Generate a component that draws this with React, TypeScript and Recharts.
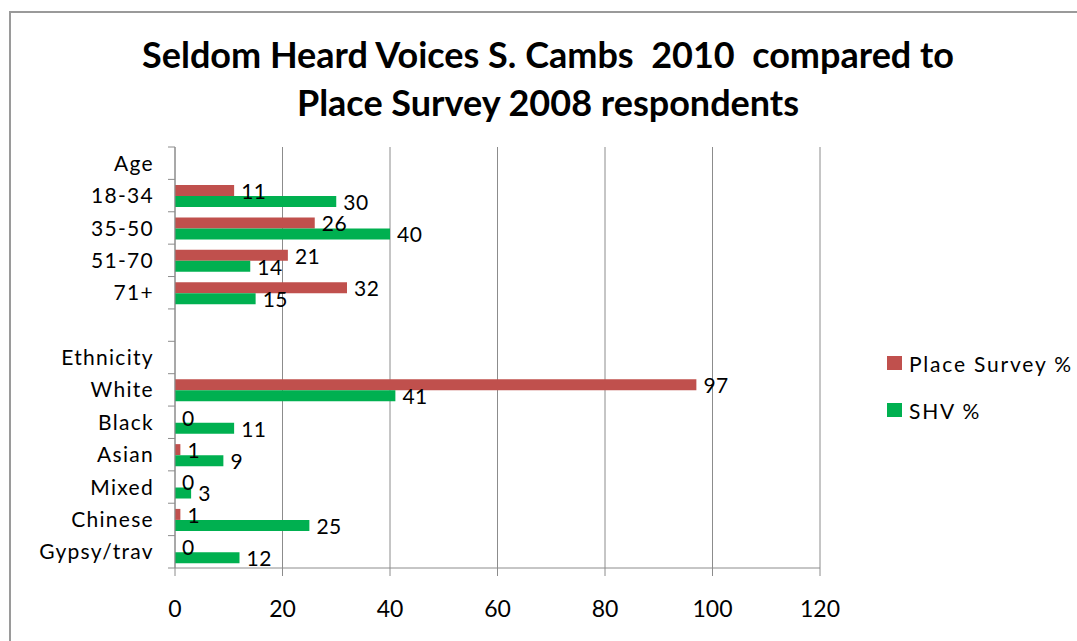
import React from 'react'
import { BarChart, Bar, XAxis, YAxis, CartesianGrid } from 'recharts'

const categories = ['Age', '18-34', '35-50', '51-70', '71+', '', 'Ethnicity', 'White', 'Black', 'Asian', 'Mixed', 'Chinese', 'Gypsy/trav']
const placeSurvey: (number | null)[] = [null, 11, 26, 21, 32, null, null, 97, 0, 1, 0, 1, 0]
const shv: (number | null)[] = [null, 30, 40, 14, 15, null, null, 41, 11, 9, 3, 25, 12]
const xTicks = [0, 20, 40, 60, 80, 100, 120]

const data = categories.map((c, i) => ({ cat: c, place: placeSurvey[i], shv: shv[i] }))

const FONT = 'Lato, "Open Sans", sans-serif'
const AXIS_X = 175
const TOP = 147
const BOTTOM = 568
const BAND = (BOTTOM - TOP) / categories.length
const GRAY = '#8c8c8c'

const YTick = ({ y, payload, index }: any) => {
  return (
    <g>
      <line x1={AXIS_X - 7} x2={AXIS_X} y1={y - BAND / 2} y2={y - BAND / 2} stroke={GRAY} />
      {index === categories.length - 1 && (
        <line x1={AXIS_X - 7} x2={AXIS_X} y1={y + BAND / 2} y2={y + BAND / 2} stroke={GRAY} />
      )}
      <text x={AXIS_X - 21} y={y} dy="0.36em" textAnchor="end" fontSize={21} letterSpacing={1.3} fill="#000" fontFamily={FONT}>
        {payload.value}
      </text>
    </g>
  )
}

// value labels live in a second (hidden-axis) bar group drawn after the coloured bars,
// so the text sits on top of the bars and zero values still get their "0"
const makeLabel = (key: string) => (props: any) => {
  const v = props.payload ? props.payload[key] : null
  if (v == null) return <g />
  const { x, y, width, height } = props
  const w = Number.isFinite(width) ? width : 0
  return (
    <text x={x + w + 7} y={y + height / 2} dy="0.4em" fontSize={21} letterSpacing={0.5} fill="#000" fontFamily={FONT}>
      {v}
    </text>
  )
}

const App = () => {
  return (
    <div style={{ position: 'absolute', left: 0, top: 0, width: 1077, height: 641, background: '#fff', fontFamily: FONT }}>
      <div style={{ position: 'absolute', left: 9, top: 11, right: 0, bottom: 0, borderTop: `2px solid #9a9a9a`, borderLeft: `2px solid #9a9a9a` }} />
      <div style={{ position: 'absolute', left: 0, width: 1096, top: 30, textAlign: 'center', fontWeight: 700, fontSize: 36, lineHeight: '48px', color: '#000' }}>
        <div>Seldom Heard Voices S. Cambs&nbsp; 2010&nbsp; compared to</div>
        <div>Place Survey 2008 respondents</div>
      </div>
      <div style={{ position: 'absolute', left: 887, top: 349, fontSize: 21, letterSpacing: 1.8, color: '#000' }}>
        <div style={{ display: 'flex', alignItems: 'center', height: 28 }}>
          <span style={{ width: 15, height: 14, background: '#C0504D', marginRight: 7 }} />
          <span>Place Survey %</span>
        </div>
        <div style={{ display: 'flex', alignItems: 'center', height: 28, marginTop: 19 }}>
          <span style={{ width: 15, height: 14, background: '#00B050', marginRight: 7 }} />
          <span>SHV %</span>
        </div>
      </div>
      <div style={{ position: 'absolute', left: 0, top: 0 }}>
        <BarChart
          width={1077}
          height={641}
          data={data}
          layout="vertical"
          margin={{ top: TOP, right: 257, bottom: 641 - BOTTOM - 50, left: 0 }}
          barCategoryGap="17.5%"
          barGap={0}
        >
          <CartesianGrid horizontal={false} stroke={GRAY} />
          <XAxis
            type="number"
            domain={[0, 120]}
            ticks={xTicks}
            height={50}
            tickSize={8}
            tickMargin={25}
            stroke={GRAY}
            tick={{ fontSize: 23, fill: '#000', fontFamily: FONT }}
          />
          <YAxis
            type="category"
            dataKey="cat"
            width={AXIS_X}
            stroke={GRAY}
            tickLine={false}
            tick={<YTick />}
            interval={0}
          />
          <YAxis yAxisId="labels" type="category" dataKey="cat" hide />
          <Bar dataKey="place" fill="#C0504D" isAnimationActive={false} />
          <Bar dataKey="shv" fill="#00B050" isAnimationActive={false} />
          <Bar yAxisId="labels" dataKey="place" fill="none" isAnimationActive={false} shape={makeLabel('place')} />
          <Bar yAxisId="labels" dataKey="shv" fill="none" isAnimationActive={false} shape={makeLabel('shv')} />
        </BarChart>
      </div>
    </div>
  )
}

export default App
